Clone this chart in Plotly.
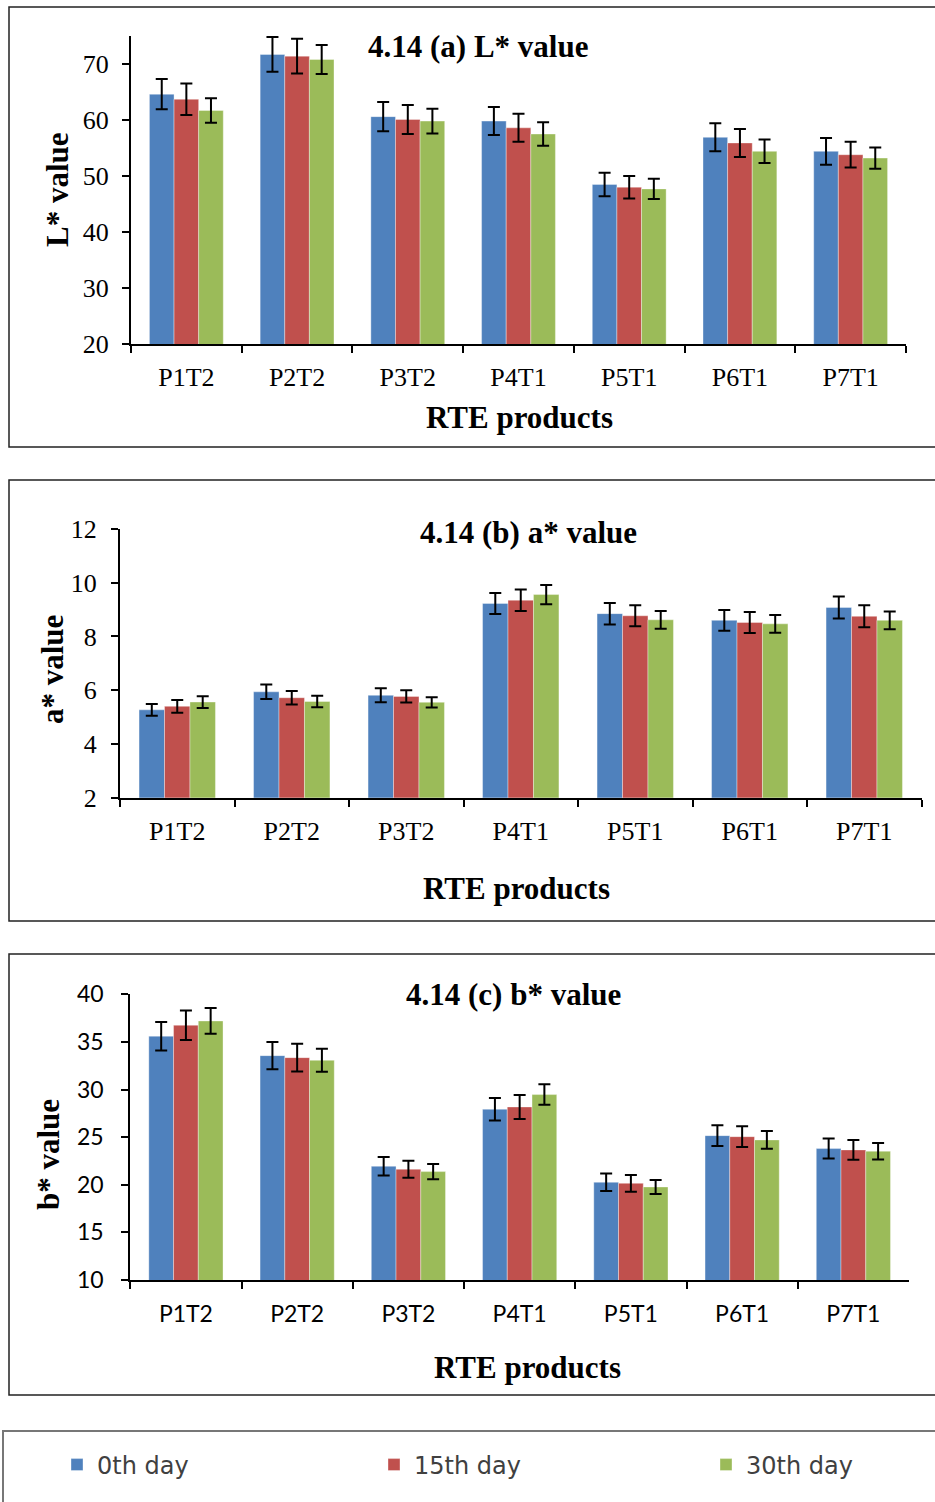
import plotly.graph_objects as go

W, H = 935, 1502

categories = ["P1T2", "P2T2", "P3T2", "P4T1", "P5T1", "P6T1", "P7T1"]
series_names = ["0th day", "15th day", "30th day"]
colors = ["#4F81BD", "#C0504D", "#9BBB59"]

# (a) L* value
L_day0 = [64.6, 71.7, 60.6, 59.8, 48.5, 56.9, 54.4]
L_day15 = [63.7, 71.4, 60.1, 58.6, 48.0, 55.9, 53.8]
L_day30 = [61.7, 70.8, 59.8, 57.5, 47.7, 54.4, 53.2]
L_err0 = [2.7, 3.1, 2.6, 2.5, 2.1, 2.5, 2.4]
L_err15 = [2.8, 3.1, 2.6, 2.5, 2.0, 2.5, 2.3]
L_err30 = [2.2, 2.6, 2.2, 2.1, 1.8, 2.1, 1.9]

# (b) a* value
a_day0 = [5.27, 5.94, 5.81, 9.23, 8.85, 8.60, 9.08]
a_day15 = [5.40, 5.72, 5.77, 9.35, 8.77, 8.52, 8.75]
a_day30 = [5.56, 5.58, 5.55, 9.56, 8.62, 8.47, 8.60]
a_err0 = [0.22, 0.27, 0.26, 0.39, 0.40, 0.39, 0.41]
a_err15 = [0.24, 0.25, 0.23, 0.40, 0.39, 0.39, 0.41]
a_err30 = [0.22, 0.21, 0.19, 0.36, 0.33, 0.33, 0.33]

# (c) b* value
b_day0 = [35.6, 33.56, 21.94, 27.93, 20.26, 25.16, 23.80]
b_day15 = [36.75, 33.35, 21.63, 28.17, 20.15, 25.05, 23.66]
b_day30 = [37.2, 33.07, 21.38, 29.47, 19.77, 24.71, 23.52]
b_err0 = [1.5, 1.44, 0.98, 1.19, 0.91, 1.09, 1.05]
b_err15 = [1.55, 1.45, 0.90, 1.26, 0.88, 1.09, 1.04]
b_err30 = [1.35, 1.20, 0.80, 1.08, 0.73, 0.94, 0.87]

panels = [
    dict(vals=[L_day0, L_day15, L_day30], errs=[L_err0, L_err15, L_err30]),
    dict(vals=[a_day0, a_day15, a_day30], errs=[a_err0, a_err15, a_err30]),
    dict(vals=[b_day0, b_day15, b_day30], errs=[b_err0, b_err15, b_err30]),
]

def px(x):
    return x / W

def py(y):
    return 1 - y / H

legend_ids = ["legend", "legend2", "legend3"]

fig = go.Figure()
for p, panel in enumerate(panels):
    ax = "" if p == 0 else str(p + 1)
    for i in range(3):
        fig.add_trace(go.Bar(
            x=categories, y=panel["vals"][i], name=series_names[i],
            marker=dict(color=colors[i], line=dict(color="rgba(255,255,255,0.6)", width=0.6)),
            error_y=dict(type="data", array=panel["errs"][i], color="black", thickness=2, width=6),
            xaxis="x" + ax, yaxis="y" + ax,
            showlegend=(p == 0), legend=legend_ids[i], legendgroup=series_names[i],
        ))

serif = "Liberation Serif"
sans = "Lato"

geo = [
    dict(x0=131, x1=906, yt=36, yb=344, rng=[20, 75], tv=[20, 30, 40, 50, 60, 70], font=serif, fs=26, ystand=8, xstand=9),
    dict(x0=120, x1=921.5, yt=529, yb=797.7, rng=[2, 12], tv=[2, 4, 6, 8, 10, 12], font=serif, fs=26, ystand=9, xstand=9),
    dict(x0=130.3, x1=909, yt=994.3, yb=1280, rng=[10, 40], tv=[10, 15, 20, 25, 30, 35, 40], font=sans, fs=23, ystand=13, xstand=12),
]

layout = dict(
    width=W, height=H, margin=dict(l=0, r=0, t=0, b=0, pad=0, autoexpand=False),
    paper_bgcolor="white", plot_bgcolor="white",
    barmode="group", bargap=0.333, bargroupgap=0,
    showlegend=True,
)
for p, g in enumerate(geo):
    ax = "" if p == 0 else str(p + 1)
    layout["xaxis" + ax] = dict(
        domain=[px(g["x0"]), px(g["x1"])], anchor="y" + ax, type="category",
        showline=True, linecolor="black", linewidth=2, ticks="outside", tickson="boundaries",
        ticklen=7, tickwidth=2, tickcolor="black", showgrid=False, automargin=False,
        tickfont=dict(family=g["font"], size=g["fs"], color="black"), ticklabelstandoff=g["xstand"],
    )
    layout["yaxis" + ax] = dict(
        domain=[py(g["yb"]), py(g["yt"])], anchor="x" + ax, range=g["rng"], tickvals=g["tv"],
        showline=True, linecolor="black", linewidth=2, ticks="outside", ticklen=7, tickwidth=2,
        tickcolor="black", showgrid=False, zeroline=False, automargin=False,
        tickfont=dict(family=g["font"], size=g["fs"], color="black"), ticklabelstandoff=g["ystand"],
    )
fig.update_layout(**layout)

annotations = []
def txt(text, x, y, size=31, angle=0, family=serif, bold=True, color="black"):
    annotations.append(dict(
        text=("<b>%s</b>" % text) if bold else text, x=px(x), y=py(y), xref="paper", yref="paper",
        showarrow=False, textangle=angle, font=dict(family=family, size=size, color=color),
        xanchor="center", yanchor="middle",
    ))

txt("4.14 (a) L* value", 478, 46)
txt("4.14 (b) a* value", 528, 532)
txt("4.14 (c) b* value", 513, 994)
txt("RTE products", 519, 418)
txt("RTE products", 516, 888)
txt("RTE products", 527, 1367)
txt("L* value", 57, 190, angle=-90)
txt("a* value", 52, 670, angle=-90)
txt("b* value", 48, 1155, angle=-90)
fig.update_layout(annotations=annotations)

shapes = []
for (y0, y1) in [(7, 447), (480, 921), (954, 1395)]:
    shapes.append(dict(type="rect", xref="paper", yref="paper", x0=px(9), x1=px(960),
                       y0=py(y1), y1=py(y0), line=dict(color="#222", width=1.5)))
shapes.append(dict(type="rect", xref="paper", yref="paper", x0=px(3), x1=px(960),
                   y0=py(1530), y1=py(1431), line=dict(color="#777", width=2)))
fig.update_layout(shapes=shapes)

leg_font = dict(family="DejaVu Sans", size=24, color="#404040")
leg_x = [57, 374, 706]
for i, lid in enumerate(legend_ids):
    fig.update_layout({lid: dict(
        orientation="h", x=px(leg_x[i]), y=py(1465), xanchor="left", yanchor="middle",
        font=leg_font, itemwidth=30, bgcolor="rgba(0,0,0,0)",
    )})

fig.write_html("out.html", config={"displayModeBar": False},
               post_script="document.body.style.margin='0';document.body.style.overflow='hidden';")
